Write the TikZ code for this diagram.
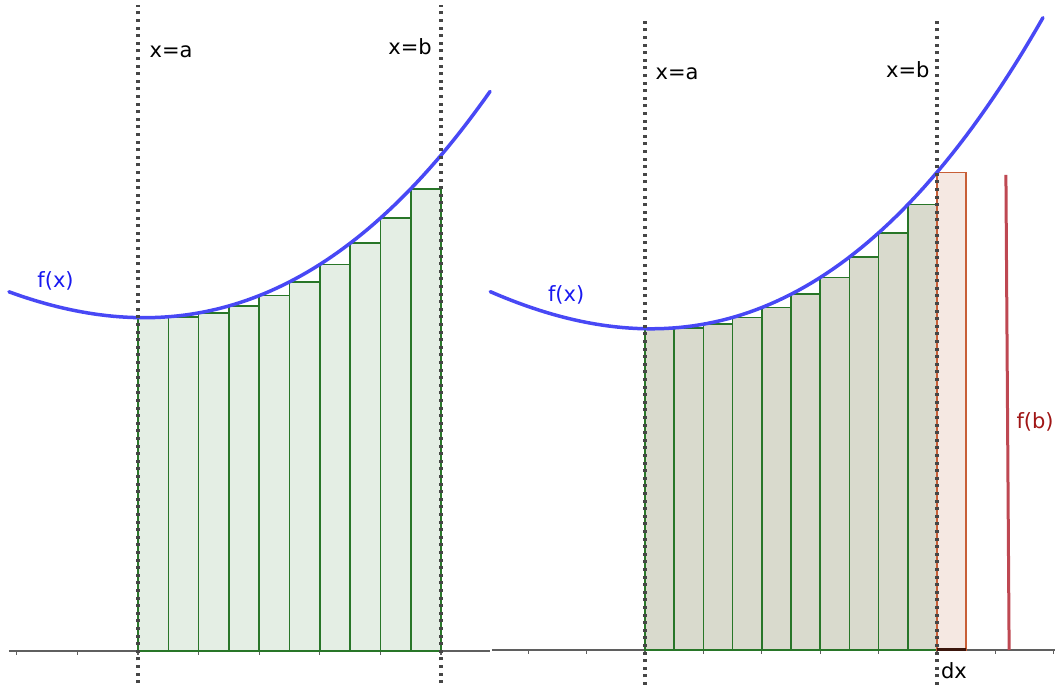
\documentclass[tikz,border=0pt]{standalone}
\usepackage{fontspec}
\setmainfont{DejaVu Sans}
\usepackage{tikz}
\usetikzlibrary{calc}
\definecolor{curve}{RGB}{72,72,245}
\definecolor{ftext}{RGB}{25,25,240}
\definecolor{edge}{RGB}{40,118,40}
\definecolor{lfill}{RGB}{228,238,228}
\definecolor{rfill}{RGB}{217,218,205}
\definecolor{dxedge}{RGB}{200,95,55}
\definecolor{dxfill}{RGB}{245,232,226}
\definecolor{dxbar}{RGB}{60,22,12}
\definecolor{fbline}{RGB}{190,72,82}
\definecolor{fbtext}{RGB}{160,22,22}
\definecolor{axisgray}{RGB}{95,95,95}
\definecolor{dotgray}{RGB}{70,70,70}

\begin{document}
\begin{tikzpicture}[
    declare function={f(\x)=11+0.047*(\x-0.2)*(\x-0.2)+0.0009*(\x-0.2)*(\x-0.2)*(\x-0.2);},
    axisline/.style={axisgray,line width=1.2pt},
    bound/.style={dotgray,line width=3.2pt,dash pattern=on 3pt off 4.6pt},
    graph/.style={curve,line width=3.5pt,line cap=round},
    lbl/.style={font=\fontsize{21}{25}\selectfont,inner sep=0pt,anchor=base}]
  \useasboundingbox (0pt,0pt) rectangle (1055pt,685pt);
  \begin{scope}[shift={(138pt,34pt)},x=30.3pt,y=30.3pt]
    \draw[axisline] (-4.26,0) -- (11.62,0); \foreach \t in {-4,-2,...,10} \draw[axisline] (\t,0) -- (\t,-0.12);
    \foreach \i in {0,...,9} \draw[edge,fill=lfill,line width=1.6pt] (\i,0) rectangle ({\i+1},{f(\i)});
    \draw[graph] plot[domain=-4.26:11.62,samples=80] (\x,{f(\x)});
    \draw[bound] (0,-1.06) -- (0,21.32); \draw[bound] (10,-1.06) -- (10,21.32);
    \node[lbl] (la) at (1.09,19.6) {x=a};
    \node[lbl] (lb) at (8.98,19.67) {x=b};
    \node[lbl,ftext] (lf) at (-2.72,11.98) {f(x)};
  \end{scope}
  \begin{scope}[shift={(645pt,35pt)},x=29.2pt,y=29.2pt]
    \draw[axisline] (-5.24,0) -- (14.04,0); \foreach \t in {-4,-2,...,14} \draw[axisline] (\t,0) -- (\t,-0.12);
    \foreach \i in {0,...,9} \draw[edge,fill=rfill,line width=1.6pt] (\i,0) rectangle ({\i+1},{f(\i)});
    \draw[dxedge,fill=dxfill,line width=1.5pt] (10,0) rectangle (11,{f(10)});
    \draw[dxbar,line width=3pt] (10,0) -- (11,0);
    \draw[fbline,line width=3pt] (12.36,16.27) -- (12.47,0);
    \draw[graph] plot[domain=-5.3:13.63,samples=80] (\x,{f(\x)});
    \draw[bound] (0,-1.2) -- (0,21.68); \draw[bound] (10,-1.2) -- (10,21.68);
    \node[lbl] (ra) at (1.1,19.55) {x=a};
    \node[lbl] (rb) at (9.0,19.62) {x=b};
    \node[lbl,ftext] (rf) at (-2.7,11.95) {f(x)};
    \node[lbl,fbtext] (fb) at (13.36,7.6) {f(b)};
    \node[lbl] (dx) at (10.58,-0.98) {dx};
  \end{scope}
\end{tikzpicture}
\end{document}
